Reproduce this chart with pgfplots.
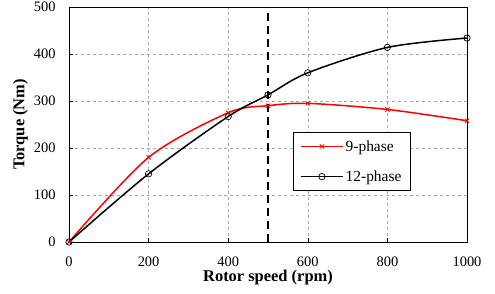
\documentclass[border=0pt]{standalone}
\usepackage{pgfplots}
\pgfplotsset{compat=1.18}
\usepackage{fontspec}
\setmainfont{Liberation Serif}
\begin{document}
\begin{tikzpicture}
\begin{axis}[
  scale only axis, width=398bp, height=235bp,
  at={(0,0)}, anchor=south west,
  xmin=0, xmax=1000, ymin=0, ymax=500,
  xtick={0,200,400,600,800,1000},
  ytick={0,100,200,300,400,500},
  major tick length=4bp,
  tick align=inside,
  xtick pos=bottom, ytick pos=left,
  major tick style={black, line width=0.6bp},
  grid=major,
  major grid style={gray!70, dashed, line width=0.6bp},
  axis line style={black, line width=0.8bp},
  /pgf/number format/assume math mode=true,
  /pgf/number format/1000 sep={},
  tick label style={font=\fontsize{14.5}{16}\selectfont},
  xticklabel style={yshift=-11bp},
  yticklabel style={xshift=-10bp},
  xlabel={\textbf{Rotor speed (rpm)}},
  ylabel={\textbf{Torque (Nm)}},
  label style={font=\fontsize{16.5}{18}\selectfont},
  xlabel style={yshift=3bp},
  ylabel style={yshift=-1bp},
  clip=false,
  legend style={at={(rel axis cs:0.5625,0.468)}, anchor=north west, draw=black, line width=0.6bp,
    font=\fontsize{15.5}{17}\selectfont, row sep=14bp, inner xsep=7bp, inner ysep=6bp},
  legend cell align=left,
  legend image code/.code={\draw[mark repeat=2,mark phase=2,#1] plot coordinates {(0bp,0bp) (21bp,0bp) (42bp,0bp)};},
]
\addplot[red, line width=1.5bp, smooth, mark=x, mark size=3bp, mark options={line width=0.8bp}]
  coordinates {(0,0) (200,180) (400,275) (500,290) (600,295) (800,282) (1000,258)};
\addlegendentry{9-phase}
\addplot[black, line width=1.5bp, smooth, mark=o, mark size=3.2bp, mark options={line width=0.7bp}]
  coordinates {(0,0) (200,145) (400,267) (500,313) (600,360) (800,414) (1000,434)};
\addlegendentry{12-phase}
\addplot[black, line width=1.8bp, dash pattern=on 8bp off 5bp, forget plot]
  coordinates {(500,0) (500,500)};
\end{axis}
\pgfresetboundingbox
\path (-69bp,-52bp) rectangle (426bp,242bp);
\end{tikzpicture}
\end{document}
